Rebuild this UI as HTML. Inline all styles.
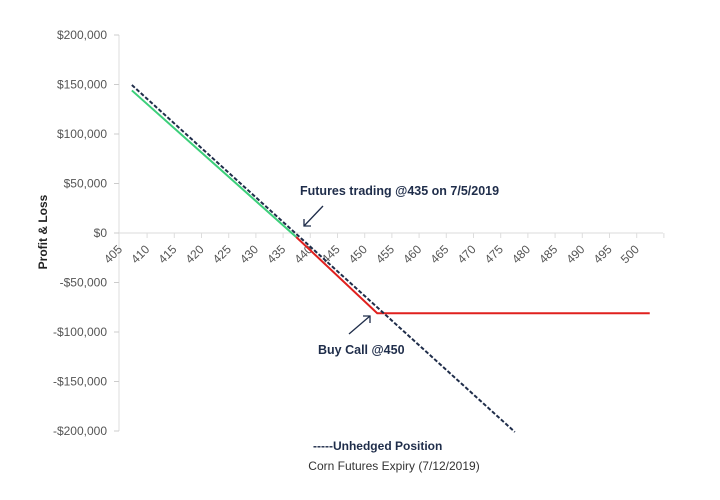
<!DOCTYPE html>
<html><head><meta charset="utf-8"><style>
body{margin:0;background:#fff;}
svg{font-family:"Liberation Sans",sans-serif;display:block;}
</style></head><body>
<svg width="720" height="500">
<g id="axes"></g><g id="marks"></g>
<text x="300" y="195" font-size="12.5" font-weight="bold" fill="#1f2d4a">Futures trading @435 on 7/5/2019</text>
<line x1="323" y1="206" x2="304" y2="226" stroke="#1f2d4a" stroke-width="1.3"/>
<polyline points="304,219 304,226 311,226" fill="none" stroke="#1f2d4a" stroke-width="1.3"/>
<text x="318" y="354" font-size="12.5" font-weight="bold" fill="#1f2d4a">Buy Call @450</text>
<line x1="349" y1="334" x2="370" y2="316" stroke="#1f2d4a" stroke-width="1.3"/>
<polyline points="363,316 370,316 370,323" fill="none" stroke="#1f2d4a" stroke-width="1.3"/>
<text x="313" y="450" font-size="12" font-weight="bold" fill="#1f2d4a">-----Unhedged Position</text>
<text x="394" y="470" font-size="12" text-anchor="middle" fill="#333">Corn Futures Expiry (7/12/2019)</text>
<text transform="translate(47,232) rotate(-90)" font-size="12" font-weight="bold" text-anchor="middle" fill="#222">Profit &amp; Loss</text>
</svg>
<script>
const xCategories=[405,410,415,420,425,430,435,440,445,450,455,460,465,470,475,480,485,490,495,500];
const yTicks=[200000,150000,100000,50000,0,-50000,-100000,-150000,-200000];
const yTickLabels=["$200,000","$150,000","$100,000","$50,000","$0","-$50,000","-$100,000","-$150,000","-$200,000"];
const unhedgedPrices=[408.1,478.5];
const unhedgedPL=[149500,-201000];
const gainPrices=[408.1,438.3];
const gainPL=[144000,-4000];
const lossPrices=[438.3,453.2,503.3];
const lossPL=[-4000,-81000,-81000];

const NS="http://www.w3.org/2000/svg";
const X=v=>115+(v-405)*5.44;
const Y=v=>233-v*198/200000;
const axes=document.getElementById('axes'),marks=document.getElementById('marks');
function mk(tag,attrs,parent){const e=document.createElementNS(NS,tag);for(const k in attrs)e.setAttribute(k,attrs[k]);parent.appendChild(e);return e;}
let l=mk('line',{x1:119,y1:35,x2:119,y2:431,stroke:'#ddd','stroke-width':1},axes);


yTicks.forEach((t,i)=>{
  const tk=mk('line',{x1:114,y1:Y(t),x2:119,y2:Y(t),stroke:'#ccc'},axes);
  
  
  const tx=mk('text',{x:107,y:Y(t)+4,'font-size':12,'text-anchor':'end',fill:'#555'},axes);
  tx.textContent=yTickLabels[i];
  
  
});
l=mk('line',{x1:119,y1:Y(0),x2:663,y2:Y(0),stroke:'#e2e2e2','stroke-width':1.2},axes);


for(let i=0;i<20;i++){
  const x=X(410.9+i*5);
  const tk=mk('line',{x1:x,y1:Y(0),x2:x,y2:Y(0)+5,stroke:'#ddd'},axes);
  
  
}
xCategories.forEach(c=>{
  const x=X(c)+8,y=250;
  const tx=mk('text',{x:x,y:y,'font-size':12,'text-anchor':'end',fill:'#555',transform:`rotate(-45 ${x} ${y})`},axes);
  tx.textContent=c;
  
  
});
function pts(px,py){return px.map((p,i)=>X(p)+','+Y(py[i])).join(' ');}
let s=mk('polyline',{points:pts(gainPrices,gainPL),fill:'none',stroke:'#3ccf7a','stroke-width':2},marks);


s=mk('polyline',{points:pts(lossPrices,lossPL),fill:'none',stroke:'#e0201e','stroke-width':2},marks);


s=mk('polyline',{points:pts(unhedgedPrices,unhedgedPL),fill:'none',stroke:'#1f2d4a','stroke-width':2,'stroke-dasharray':'4 2'},marks);


</script>
</body></html>
